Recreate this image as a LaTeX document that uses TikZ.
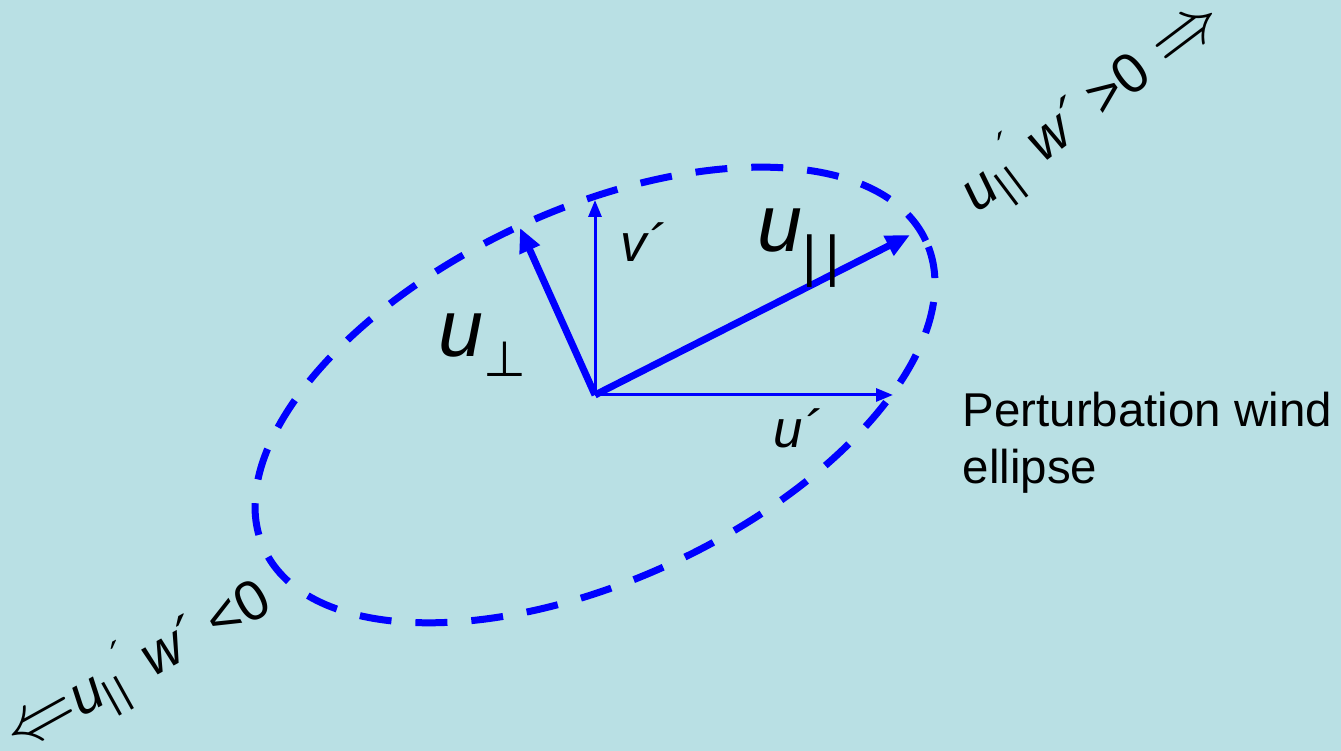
\documentclass[tikz,border=0pt]{standalone}
\usepackage{fontspec}
\setmainfont{Liberation Sans}
\newfontfamily\symfont{DejaVu Sans}
\usetikzlibrary{arrows.meta, positioning}
\definecolor{PanelBlue}{RGB}{185,224,228}
\definecolor{WindBlue}{RGB}{0,0,255}
\newcommand{\twobars}[1]{|\kern#1|}

\begin{document}
\begin{tikzpicture}[
    thinvec/.style={draw=WindBlue, line width=0.03cm, -{Triangle[length=0.17cm, width=0.13cm]}},
    thickvec/.style={draw=WindBlue, line width=0.07cm, -{Triangle[length=0.24cm, width=0.21cm]}},
    windellipse/.style={draw=WindBlue, line width=0.07cm, dash pattern=on 0.32cm off 0.24cm},
    veclabel/.style={inner sep=0pt, anchor=base west, font=\itshape\fontsize{15}{15}\selectfont},
    biglabel/.style={inner sep=0pt, anchor=base west, font=\itshape\fontsize{23}{23}\selectfont},
    fluxlabel/.style={inner sep=0pt, font=\fontsize{16}{16}\selectfont}
]
\fill[PanelBlue] (0,0) rectangle (13.41,7.51);
\useasboundingbox (0,0) rectangle (13.41,7.51);

% wind vectors from the origin
\coordinate (O) at (5.95,3.56);
\coordinate (vTip) at (5.95,5.51);
\coordinate (uTip) at (8.93,3.56);
\coordinate (perpTip) at (5.20,5.23);
\coordinate (parTip) at (9.10,5.16);

\draw[windellipse, rotate around={25:(O)}] (O) ellipse [x radius=3.65, y radius=1.85];

\draw[thinvec] (O) -- (vTip);
\draw[thinvec] (O) -- (uTip);
\draw[thickvec] (O) -- (perpTip);
\draw[thickvec] (O) -- (parTip);

\node[veclabel] (vLabel) at (6.20,4.89) {v´};
\node[veclabel] (uLabel) at (7.73,3.03) {u´};
\node[biglabel] (perpLabel) at (4.38,3.94)
    {u\raisebox{-0.2cm}{\upshape\symfont\fontsize{14}{14}\selectfont ⊥}};
\node[biglabel] (parLabel) at (7.57,4.99)
    {u\raisebox{-0.24cm}{\upshape\fontsize{16}{16}\selectfont\twobars{0.08cm}}};

\node[inner sep=0pt, anchor=north west, align=left, font=\fontsize{13.5}{16.2}\selectfont]
    (ellipseText) at (9.62,3.60) {Perturbation wind\\ellipse};

% flux directions
\node[fluxlabel, rotate=37] (posFlux) at (10.92,6.45)
    {\itshape u\textsubscript{\upshape\twobars{0.03cm}}\textsuperscript{´}\kern0.2em w´ \upshape>0\kern0.3em{\fontsize{21}{21}\selectfont$\Rightarrow$}};
\node[fluxlabel, rotate=29] (negFlux) at (1.38,0.84)
    {{\fontsize{21}{21}\selectfont$\Leftarrow$}\itshape u\textsubscript{\upshape\twobars{0.03cm}}\textsuperscript{´}\kern0.2em w´ \upshape<0};
\end{tikzpicture}
\end{document}
